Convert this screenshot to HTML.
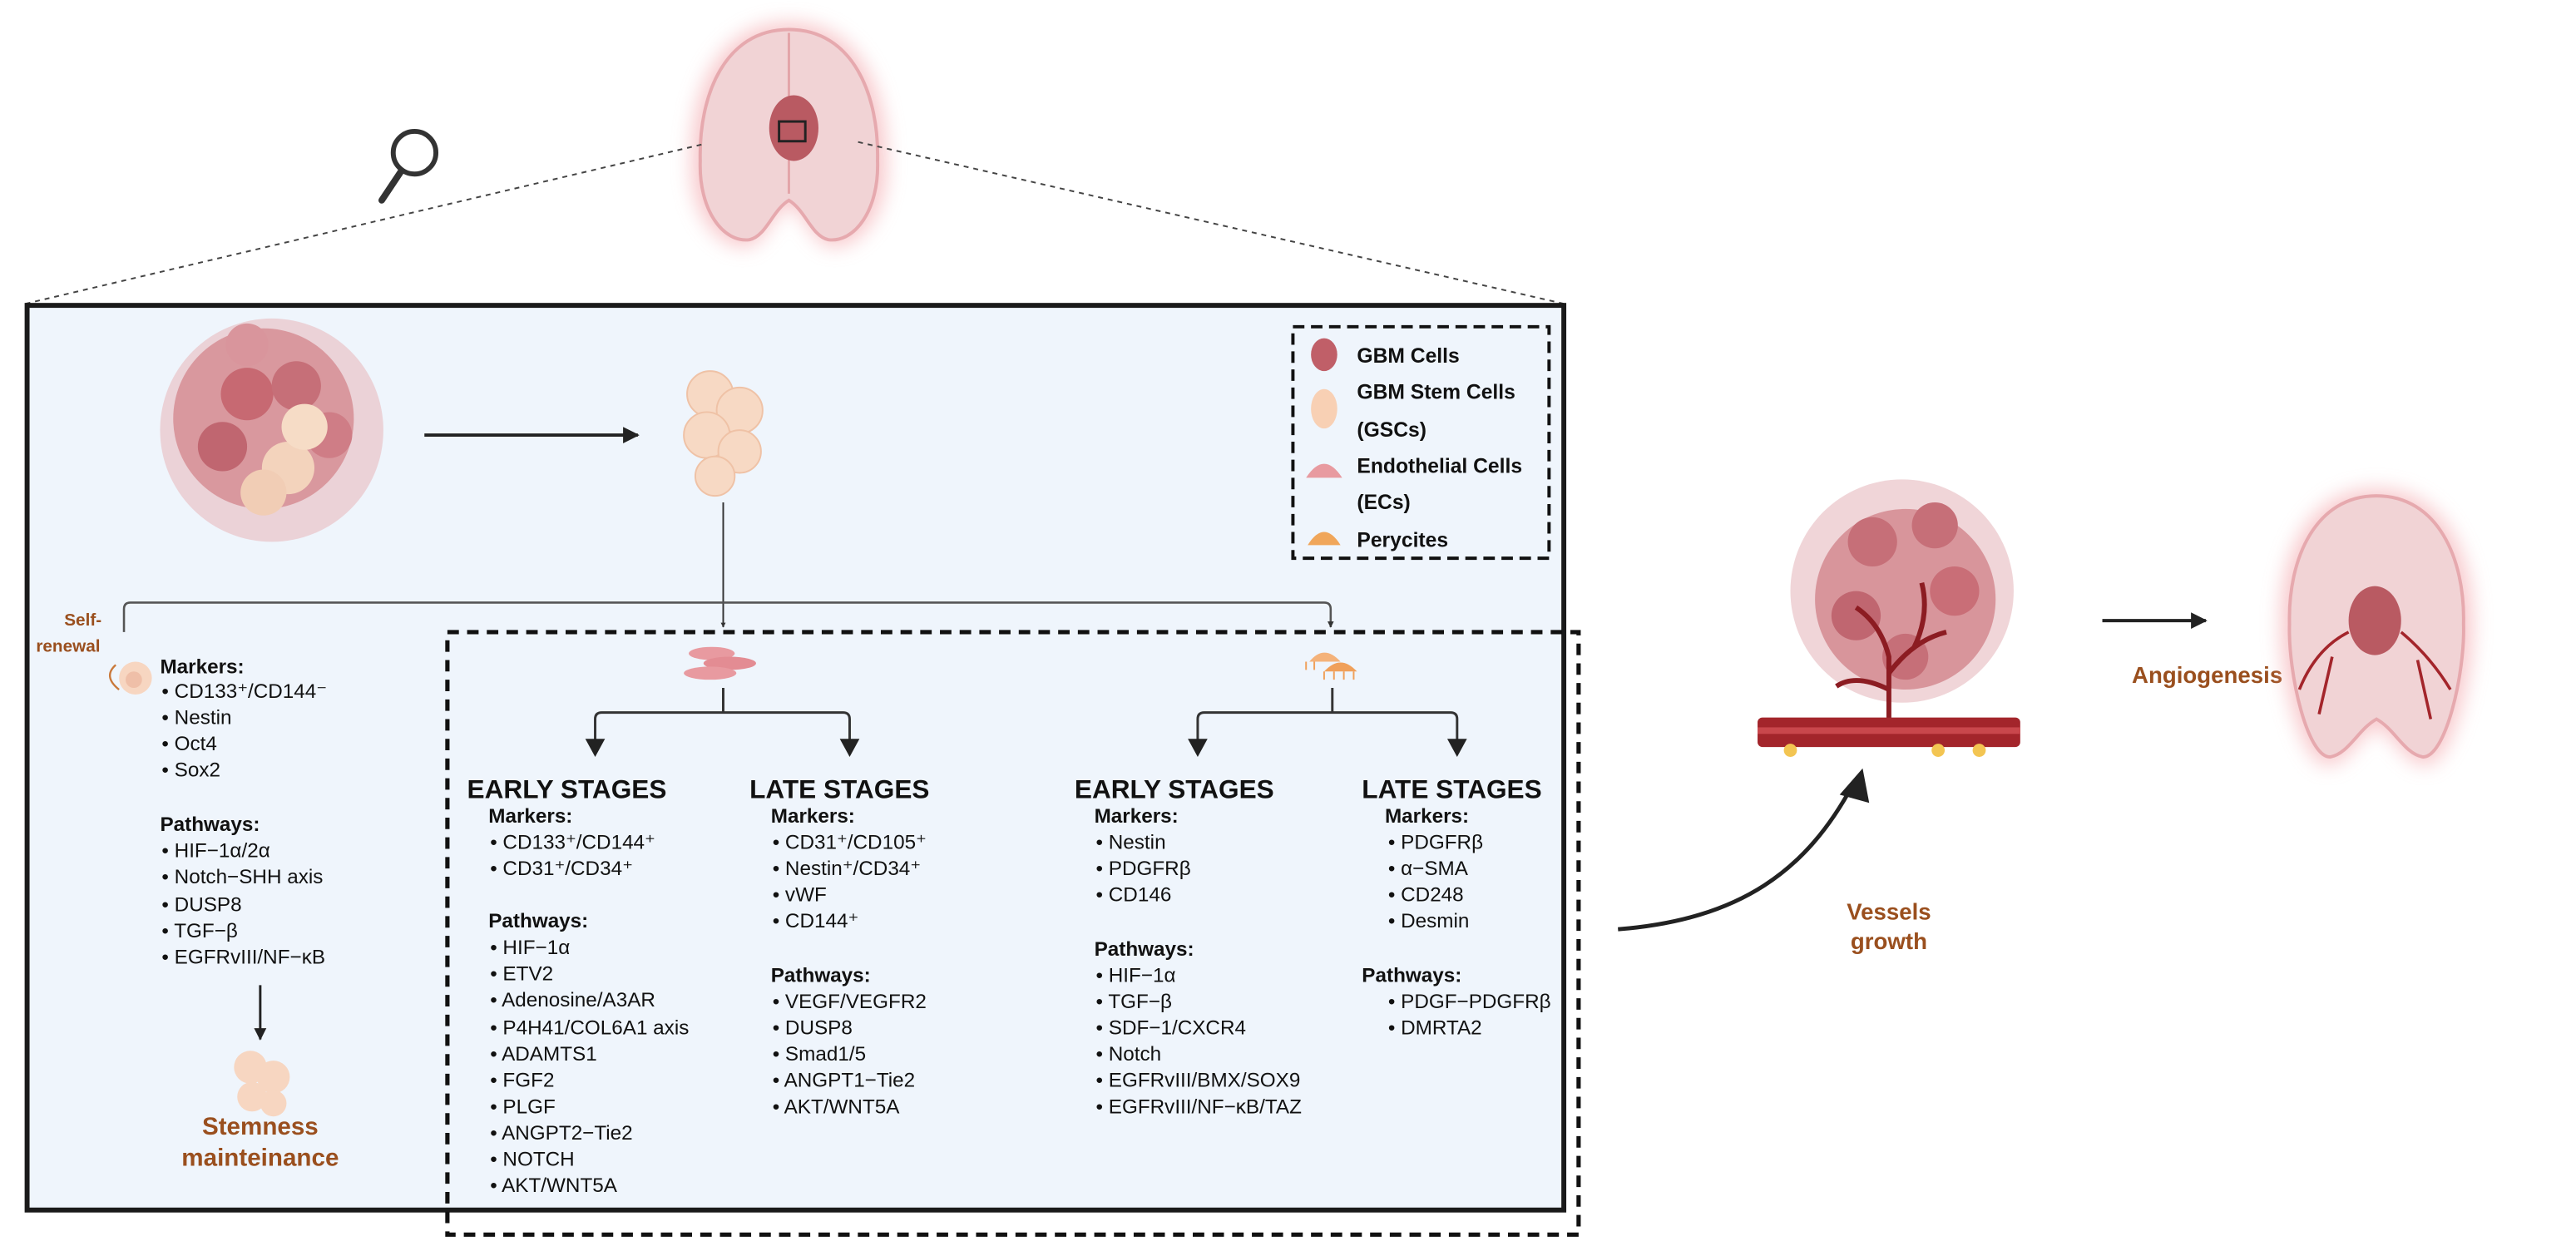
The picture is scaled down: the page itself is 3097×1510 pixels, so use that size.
<!DOCTYPE html>
<html><head><meta charset="utf-8"><style>
html,body{margin:0;padding:0;background:#fff;}
svg{display:block;}
text{font-family:"Liberation Sans",sans-serif;fill:#111;}
.t{font-size:12.3px;}
.h{font-size:12.3px;font-weight:bold;}
.s{font-size:16px;font-weight:bold;}
.o{font-weight:bold;fill:#9a4f1e;}
.lg{font-size:12.5px;font-weight:bold;}
</style></head><body>
<svg width="3097" height="1510" viewBox="0 0 1568 765" xmlns="http://www.w3.org/2000/svg">
<defs>
<filter id="glow" x="-30%" y="-30%" width="160%" height="160%"><feGaussianBlur stdDeviation="6"/></filter>
<marker id="ah" viewBox="0 0 10 10" refX="9" refY="5" markerWidth="5" markerHeight="5" orient="auto"><path d="M0,0L10,5L0,10z" fill="#222"/></marker>
<marker id="ahs" viewBox="0 0 10 10" refX="9" refY="5" markerWidth="3" markerHeight="3" orient="auto"><path d="M0,0L10,5L0,10z" fill="#333"/></marker>
</defs>

<!-- top brain -->
<g>
<path d="M480,14 C436,14 420,58 421,98 C419,130 438,152 455,150 C465,148 470,130 480,124 C490,130 495,148 505,150 C522,152 541,130 539,98 C540,58 524,14 480,14Z" fill="#f3a3a8" filter="url(#glow)" opacity="0.6"/>
<path d="M480,18 C441,18 425,58 426,98 C425,128 440,148 456,146 C466,144 470,128 480,122 C490,128 494,144 504,146 C520,148 535,128 534,98 C535,58 519,18 480,18Z" fill="#f1d3d5" stroke="#e6a9ae" stroke-width="2"/>
<path d="M480,20 L480,118" stroke="#e3a4a9" stroke-width="1.5"/>
<ellipse cx="483" cy="78" rx="15" ry="20" fill="#b95a62"/>
<rect x="474" y="74" width="16" height="12" fill="none" stroke="#222" stroke-width="1.5"/>
</g>
<!-- magnifier -->
<circle cx="252" cy="93" r="13" fill="none" stroke="#333" stroke-width="3"/>
<line x1="244" y1="104" x2="232" y2="122" stroke="#333" stroke-width="4" stroke-linecap="round"/>
<!-- zoom dashed lines -->
<line x1="15" y1="185" x2="427" y2="88" stroke="#444" stroke-width="1" stroke-dasharray="3,3"/>
<line x1="952" y1="185" x2="520" y2="86" stroke="#444" stroke-width="1" stroke-dasharray="3,3"/>

<!-- main box -->
<rect x="16" y="186" width="936" height="551" fill="#eff5fc" stroke="#1a1a1a" stroke-width="3"/>

<!-- tumor cluster -->
<g>
<circle cx="165" cy="262" r="68" fill="#e9c3c8" opacity="0.7"/>
<circle cx="160" cy="255" r="55" fill="#d48990" opacity="0.8"/>
<circle cx="150" cy="240" r="16" fill="#c76972"/><circle cx="180" cy="235" r="15" fill="#c66f78"/>
<circle cx="135" cy="272" r="15" fill="#c06670"/><circle cx="200" cy="265" r="14" fill="#cf7d86"/>
<circle cx="175" cy="285" r="16" fill="#f3d3bc"/><circle cx="185" cy="260" r="14" fill="#f6dcc6"/>
<circle cx="160" cy="300" r="14" fill="#f1cdb5"/><circle cx="150" cy="210" r="13" fill="#d9959c"/>
</g>
<line x1="258" y1="265" x2="388" y2="265" stroke="#222" stroke-width="2" marker-end="url(#ah)"/>
<!-- GSC cluster -->
<g fill="#f7d9c4" stroke="#efc2a6" stroke-width="1">
<circle cx="432" cy="240" r="14"/><circle cx="450" cy="250" r="14"/><circle cx="430" cy="265" r="14"/>
<circle cx="450" cy="275" r="13"/><circle cx="435" cy="290" r="12"/>
</g>

<!-- legend -->
<rect x="787" y="199" width="156" height="141" fill="none" stroke="#111" stroke-width="2" stroke-dasharray="7,4"/>
<ellipse cx="806" cy="216" rx="8" ry="10" fill="#c05f68"/>
<text class="lg" x="826" y="221">GBM Cells</text>
<ellipse cx="806" cy="249" rx="8" ry="12" fill="#f8d0b4"/>
<text class="lg" x="826" y="243">GBM Stem Cells</text>
<text class="lg" x="826" y="266">(GSCs)</text>
<path d="M795,291 Q806,274 817,291Z" fill="#e89aa0"/>
<text class="lg" x="826" y="288">Endothelial Cells</text>
<text class="lg" x="826" y="310">(ECs)</text>
<path d="M796,332 Q806,316 816,332Z" fill="#f0a65a"/>
<text class="lg" x="826" y="333">Perycites</text>

<!-- connectors -->
<line x1="440" y1="306" x2="440" y2="382" stroke="#333" stroke-width="1" marker-end="url(#ahs)"/>
<path d="M75,385 L75,371 Q75,367 79,367 L806,367 Q810,367 810,371 L810,382" fill="none" stroke="#555" stroke-width="1.3" marker-end="url(#ahs)"/>

<!-- self renewal -->
<text class="o" x="50" y="381" font-size="10.5" text-anchor="middle">Self-</text>
<text class="o" x="41" y="397" font-size="10.5" text-anchor="middle">renewal</text>
<circle cx="82" cy="413" r="10" fill="#f7d6c1"/><circle cx="81" cy="414" r="5" fill="#efbfa8"/>
<path d="M70,405 Q62,412 72,420" fill="none" stroke="#c9783a" stroke-width="1.2"/>

<!-- left column -->
<text class="h" x="97" y="410">Markers:</text>
<g class="t">
<text x="98" y="425">• CD133⁺/CD144⁻</text>
<text x="98" y="441">• Nestin</text>
<text x="98" y="457">• Oct4</text>
<text x="98" y="473">• Sox2</text>
</g>
<text class="h" x="97" y="506">Pathways:</text>
<g class="t">
<text x="98" y="522">• HIF−1α/2α</text>
<text x="98" y="538">• Notch−SHH axis</text>
<text x="98" y="555">• DUSP8</text>
<text x="98" y="571">• TGF−β</text>
<text x="98" y="587">• EGFRvIII/NF−κB</text>
</g>
<line x1="158" y1="600" x2="158" y2="633" stroke="#222" stroke-width="1.5" marker-end="url(#ah)"/>
<g fill="#f7d6c1"><circle cx="152" cy="650" r="10"/><circle cx="166" cy="656" r="10"/><circle cx="153" cy="668" r="9"/><circle cx="166" cy="672" r="8"/></g>
<text class="o" x="158" y="691" font-size="15" text-anchor="middle">Stemness</text>
<text class="o" x="158" y="710" font-size="15" text-anchor="middle">mainteinance</text>

<!-- dashed box -->
<rect x="272" y="385" width="689" height="367" fill="none" stroke="#111" stroke-width="2.6" stroke-dasharray="7,5"/>

<!-- endothelial icon -->
<ellipse cx="433" cy="398" rx="14" ry="4" fill="#e89aa0"/>
<ellipse cx="444" cy="404" rx="16" ry="4" fill="#e38c93"/>
<ellipse cx="432" cy="410" rx="16" ry="4" fill="#e89aa0"/>
<path d="M440,419 L440,434 M362,459 L362,438 Q362,434 366,434 L513,434 Q517,434 517,438 L517,459" fill="none" stroke="#333" stroke-width="1.5"/>
<path d="M356,450 L368,450 L362,461Z M511,450 L523,450 L517,461Z" fill="#222"/>

<text class="s" x="284" y="486">EARLY STAGES</text>
<text class="h" x="297" y="501">Markers:</text>
<g class="t">
<text x="298" y="517">• CD133⁺/CD144⁺</text>
<text x="298" y="533">• CD31⁺/CD34⁺</text>
</g>
<text class="h" x="297" y="565">Pathways:</text>
<g class="t">
<text x="298" y="581">• HIF−1α</text>
<text x="298" y="597">• ETV2</text>
<text x="298" y="613">• Adenosine/A3AR</text>
<text x="298" y="630">• P4H41/COL6A1 axis</text>
<text x="298" y="646">• ADAMTS1</text>
<text x="298" y="662">• FGF2</text>
<text x="298" y="678">• PLGF</text>
<text x="298" y="694">• ANGPT2−Tie2</text>
<text x="298" y="710">• NOTCH</text>
<text x="298" y="726">• AKT/WNT5A</text>
</g>

<text class="s" x="456" y="486">LATE STAGES</text>
<text class="h" x="469" y="501">Markers:</text>
<g class="t">
<text x="470" y="517">• CD31⁺/CD105⁺</text>
<text x="470" y="533">• Nestin⁺/CD34⁺</text>
<text x="470" y="549">• vWF</text>
<text x="470" y="565">• CD144⁺</text>
</g>
<text class="h" x="469" y="598">Pathways:</text>
<g class="t">
<text x="470" y="614">• VEGF/VEGFR2</text>
<text x="470" y="630">• DUSP8</text>
<text x="470" y="646">• Smad1/5</text>
<text x="470" y="662">• ANGPT1−Tie2</text>
<text x="470" y="678">• AKT/WNT5A</text>
</g>

<!-- pericyte icon -->
<path d="M797,403 Q806,392 816,403Z" fill="#f4b27a"/>
<path d="M806,409 Q816,398 826,409Z" fill="#f0a05a"/>
<path d="M795,403 L795,408 M800,403 L800,408 M806,409 L806,414 M812,409 L812,414 M818,409 L818,414 M824,409 L824,414" stroke="#f0a05a" stroke-width="1"/>
<path d="M811,419 L811,434 M729,459 L729,438 Q729,434 733,434 L883,434 Q887,434 887,438 L887,459" fill="none" stroke="#333" stroke-width="1.5"/>
<path d="M723,450 L735,450 L729,461Z M881,450 L893,450 L887,461Z" fill="#222"/>

<text class="s" x="654" y="486">EARLY STAGES</text>
<text class="h" x="666" y="501">Markers:</text>
<g class="t">
<text x="667" y="517">• Nestin</text>
<text x="667" y="533">• PDGFRβ</text>
<text x="667" y="549">• CD146</text>
</g>
<text class="h" x="666" y="582">Pathways:</text>
<g class="t">
<text x="667" y="598">• HIF−1α</text>
<text x="667" y="614">• TGF−β</text>
<text x="667" y="630">• SDF−1/CXCR4</text>
<text x="667" y="646">• Notch</text>
<text x="667" y="662">• EGFRvIII/BMX/SOX9</text>
<text x="667" y="678">• EGFRvIII/NF−κB/TAZ</text>
</g>

<text class="s" x="829" y="486">LATE STAGES</text>
<text class="h" x="843" y="501">Markers:</text>
<g class="t">
<text x="845" y="517">• PDGFRβ</text>
<text x="845" y="533">• α−SMA</text>
<text x="845" y="549">• CD248</text>
<text x="845" y="565">• Desmin</text>
</g>
<text class="h" x="829" y="598">Pathways:</text>
<g class="t">
<text x="845" y="614">• PDGF−PDGFRβ</text>
<text x="845" y="630">• DMRTA2</text>
</g>

<!-- right: tumor with vessels -->
<g>
<circle cx="1158" cy="360" r="68" fill="#e9c3c8" opacity="0.7"/>
<circle cx="1160" cy="365" r="55" fill="#d48990" opacity="0.85"/>
<circle cx="1140" cy="330" r="15" fill="#c66f78"/><circle cx="1178" cy="320" r="14" fill="#c66f78"/>
<circle cx="1130" cy="375" r="15" fill="#c06670"/><circle cx="1190" cy="360" r="15" fill="#c96e77"/>
<circle cx="1160" cy="400" r="14" fill="#c66f78"/>
<path d="M1150,442 L1150,400 Q1145,380 1130,370 M1150,410 Q1165,390 1185,385 M1150,420 Q1130,410 1118,418 M1165,395 Q1175,375 1170,355" fill="none" stroke="#8c1c22" stroke-width="3"/>
<rect x="1070" y="437" width="160" height="18" rx="3" fill="#a3252b"/>
<rect x="1070" y="443" width="160" height="4" fill="#c9474c"/>
<circle cx="1090" cy="457" r="4" fill="#f3c552"/><circle cx="1180" cy="457" r="4" fill="#f3c552"/><circle cx="1205" cy="457" r="4" fill="#f3c552"/>
</g>
<path d="M985,566 C1060,560 1100,530 1128,478" fill="none" stroke="#222" stroke-width="2.5"/>
<path d="M1120,484 L1134,468 L1138,489Z" fill="#222"/>
<text class="o" x="1150" y="560" font-size="14" text-anchor="middle">Vessels</text>
<text class="o" x="1150" y="578" font-size="14" text-anchor="middle">growth</text>
<line x1="1280" y1="378" x2="1343" y2="378" stroke="#222" stroke-width="2" marker-end="url(#ah)"/>
<text class="o" x="1298" y="416" font-size="14">Angiogenesis</text>

<!-- right brain -->
<g>
<path d="M1447,298 C1405,298 1388,340 1389,380 C1388,410 1402,468 1418,466 C1430,464 1436,448 1447,442 C1458,448 1464,464 1476,466 C1492,468 1506,410 1505,380 C1506,340 1489,298 1447,298Z" fill="#f3a3a8" filter="url(#glow)" opacity="0.6"/>
<path d="M1447,302 C1410,302 1393,340 1394,380 C1393,410 1405,462 1419,461 C1430,459 1436,444 1447,438 C1458,444 1464,459 1475,461 C1489,462 1501,410 1500,380 C1501,340 1484,302 1447,302Z" fill="#f1d3d5" stroke="#e6a9ae" stroke-width="2"/>
<ellipse cx="1446" cy="378" rx="16" ry="21" fill="#b95a62"/>
<path d="M1430,385 Q1410,395 1400,420 M1462,385 Q1480,400 1492,420 M1420,400 L1412,435 M1472,402 L1480,438" fill="none" stroke="#a3252b" stroke-width="1.8"/>
</g>
</svg>
</body></html>
